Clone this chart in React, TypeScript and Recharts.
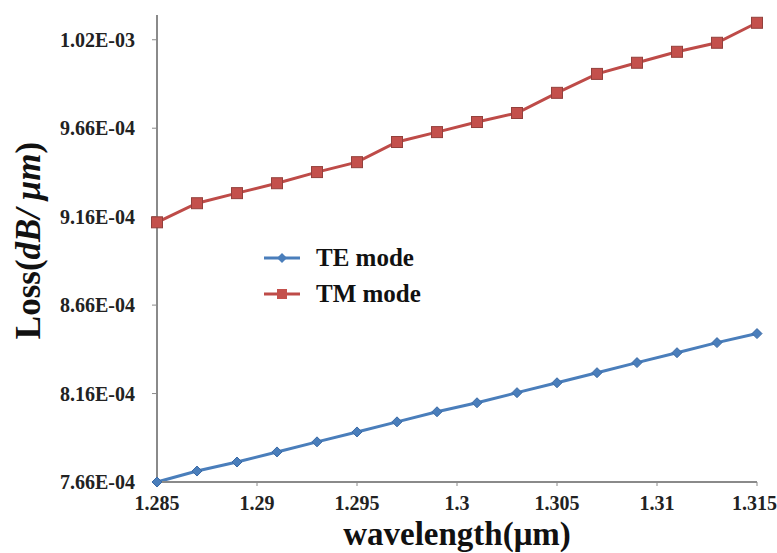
import React from 'react';
import { LineChart, Line, XAxis, YAxis, Legend } from 'recharts';

const wavelengths = [1.285, 1.287, 1.289, 1.291, 1.293, 1.295, 1.297, 1.299, 1.301, 1.303, 1.305, 1.307, 1.309, 1.311, 1.313, 1.315];
const teLoss = [7.66e-4, 7.722e-4, 7.773e-4, 7.83e-4, 7.887e-4, 7.943e-4, 8.0e-4, 8.057e-4, 8.108e-4, 8.165e-4, 8.221e-4, 8.278e-4, 8.335e-4, 8.391e-4, 8.448e-4, 8.499e-4];
const tmLoss = [9.128e-4, 9.236e-4, 9.293e-4, 9.349e-4, 9.412e-4, 9.468e-4, 9.582e-4, 9.638e-4, 9.695e-4, 9.746e-4, 9.86e-4, 9.967e-4, 10.03e-4, 10.092e-4, 10.143e-4, 10.256e-4];
const xTicks = [1.285, 1.29, 1.295, 1.3, 1.305, 1.31, 1.315];
const yTicks = [7.66e-4, 8.16e-4, 8.66e-4, 9.16e-4, 9.66e-4, 10.16e-4];

const data = wavelengths.map((w, i) => ({ w, te: teLoss[i], tm: tmLoss[i] }));

const FONT = 'Liberation Serif, DejaVu Serif, serif';
const TE_COLOR = '#4a7ebb';
const TM_COLOR = '#be4b48';
const AXIS_COLOR = '#8a8a8a';

const fmtExp = (v: number) => {
  const [m, e] = v.toExponential(2).split('e');
  const n = parseInt(e, 10);
  const sign = n < 0 ? '-' : '+';
  return `${m}E${sign}${String(Math.abs(n)).padStart(2, '0')}`;
};

const Diamond = (props: any) => {
  const { cx, cy } = props;
  if (cx == null || cy == null) return null;
  const r = 5;
  return (
    <path
      d={`M${cx},${cy - r}L${cx + r},${cy}L${cx},${cy + r}L${cx - r},${cy}Z`}
      fill={TE_COLOR}
      stroke="#3b6aa5"
      strokeWidth={1}
    />
  );
};

const Square = (props: any) => {
  const { cx, cy } = props;
  if (cx == null || cy == null) return null;
  const s = 11;
  return <rect x={cx - s / 2} y={cy - s / 2} width={s} height={s} fill="#c4504c" stroke="#93403c" strokeWidth={1} />;
};

// y title: "Loss(" upright, "dB/ μm" italic
const YTitle = (props: any) => {
  const { viewBox } = props;
  const cx = 28;
  const cy = viewBox.y + viewBox.height / 2 - 8;
  return (
    <text
      x={cx}
      y={cy}
      transform={`rotate(-90, ${cx}, ${cy})`}
      textAnchor="middle"
      dominantBaseline="central"
      style={{ fontFamily: FONT, fontWeight: 'bold', fontSize: 35 }}
      fill="#111"
    >
      Loss(<tspan fontStyle="italic">dB/ μm</tspan>)
    </text>
  );
};

const renderLegend = () => {
  const items = [
    { name: 'TE mode', color: TE_COLOR, shape: 'diamond' },
    { name: 'TM mode', color: TM_COLOR, shape: 'square' },
  ];
  return (
    <div style={{ fontFamily: FONT, fontWeight: 'bold', fontSize: 25, color: '#111' }}>
      {items.map((it) => (
        <div key={it.name} style={{ display: 'flex', alignItems: 'center', height: 36 }}>
          <svg width={40} height={14} style={{ marginRight: 14 }}>
            <line x1={2} y1={7} x2={38} y2={7} stroke={it.color} strokeWidth={3} />
            {it.shape === 'diamond' ? (
              <path d="M20,2L25,7L20,12L15,7Z" fill={it.color} />
            ) : (
              <rect x={15} y={2} width={10} height={10} fill="#c4504c" />
            )}
          </svg>
          <span>{it.name}</span>
        </div>
      ))}
    </div>
  );
};

export default function App() {
  return (
    <div style={{ position: 'absolute', left: 0, top: 0, width: 777, height: 553, background: '#fff' }}>
      <LineChart width={777} height={553} data={data} margin={{ top: 15, right: 20, bottom: 0, left: 0 }}>
        <XAxis
          dataKey="w"
          type="number"
          domain={[1.285, 1.315]}
          ticks={xTicks}
          height={71}
          axisLine={{ stroke: AXIS_COLOR, strokeWidth: 2 }}
          tickLine={{ stroke: AXIS_COLOR }}
          tickSize={4}
          tickMargin={10}
          tick={{ style: { fontFamily: FONT, fontWeight: 'bold', fontSize: 20 }, fill: '#222' }}
          label={{
            value: 'wavelength(μm)',
            position: 'insideBottom',
            offset: 8,
            style: { fontFamily: FONT, fontWeight: 'bold', fontSize: 33, fill: '#111' },
          }}
        />
        <YAxis
          type="number"
          domain={[7.66e-4, 1.03e-3]}
          ticks={yTicks}
          width={157}
          tickFormatter={fmtExp}
          axisLine={{ stroke: AXIS_COLOR, strokeWidth: 2 }}
          tickLine={{ stroke: AXIS_COLOR }}
          tickSize={5}
          tickMargin={17}
          tick={{ style: { fontFamily: FONT, fontWeight: 'bold', fontSize: 20 }, fill: '#222' }}
          label={<YTitle />}
        />
        <Legend
          layout="vertical"
          align="center"
          verticalAlign="middle"
          content={renderLegend}
          wrapperStyle={{ left: 262, top: 240, width: 220 }}
        />
        <Line
          type="linear"
          dataKey="te"
          name="TE mode"
          stroke={TE_COLOR}
          strokeWidth={3}
          dot={<Diamond />}
          isAnimationActive={false}
        />
        <Line
          type="linear"
          dataKey="tm"
          name="TM mode"
          stroke={TM_COLOR}
          strokeWidth={3}
          dot={<Square />}
          isAnimationActive={false}
        />
      </LineChart>
    </div>
  );
}
